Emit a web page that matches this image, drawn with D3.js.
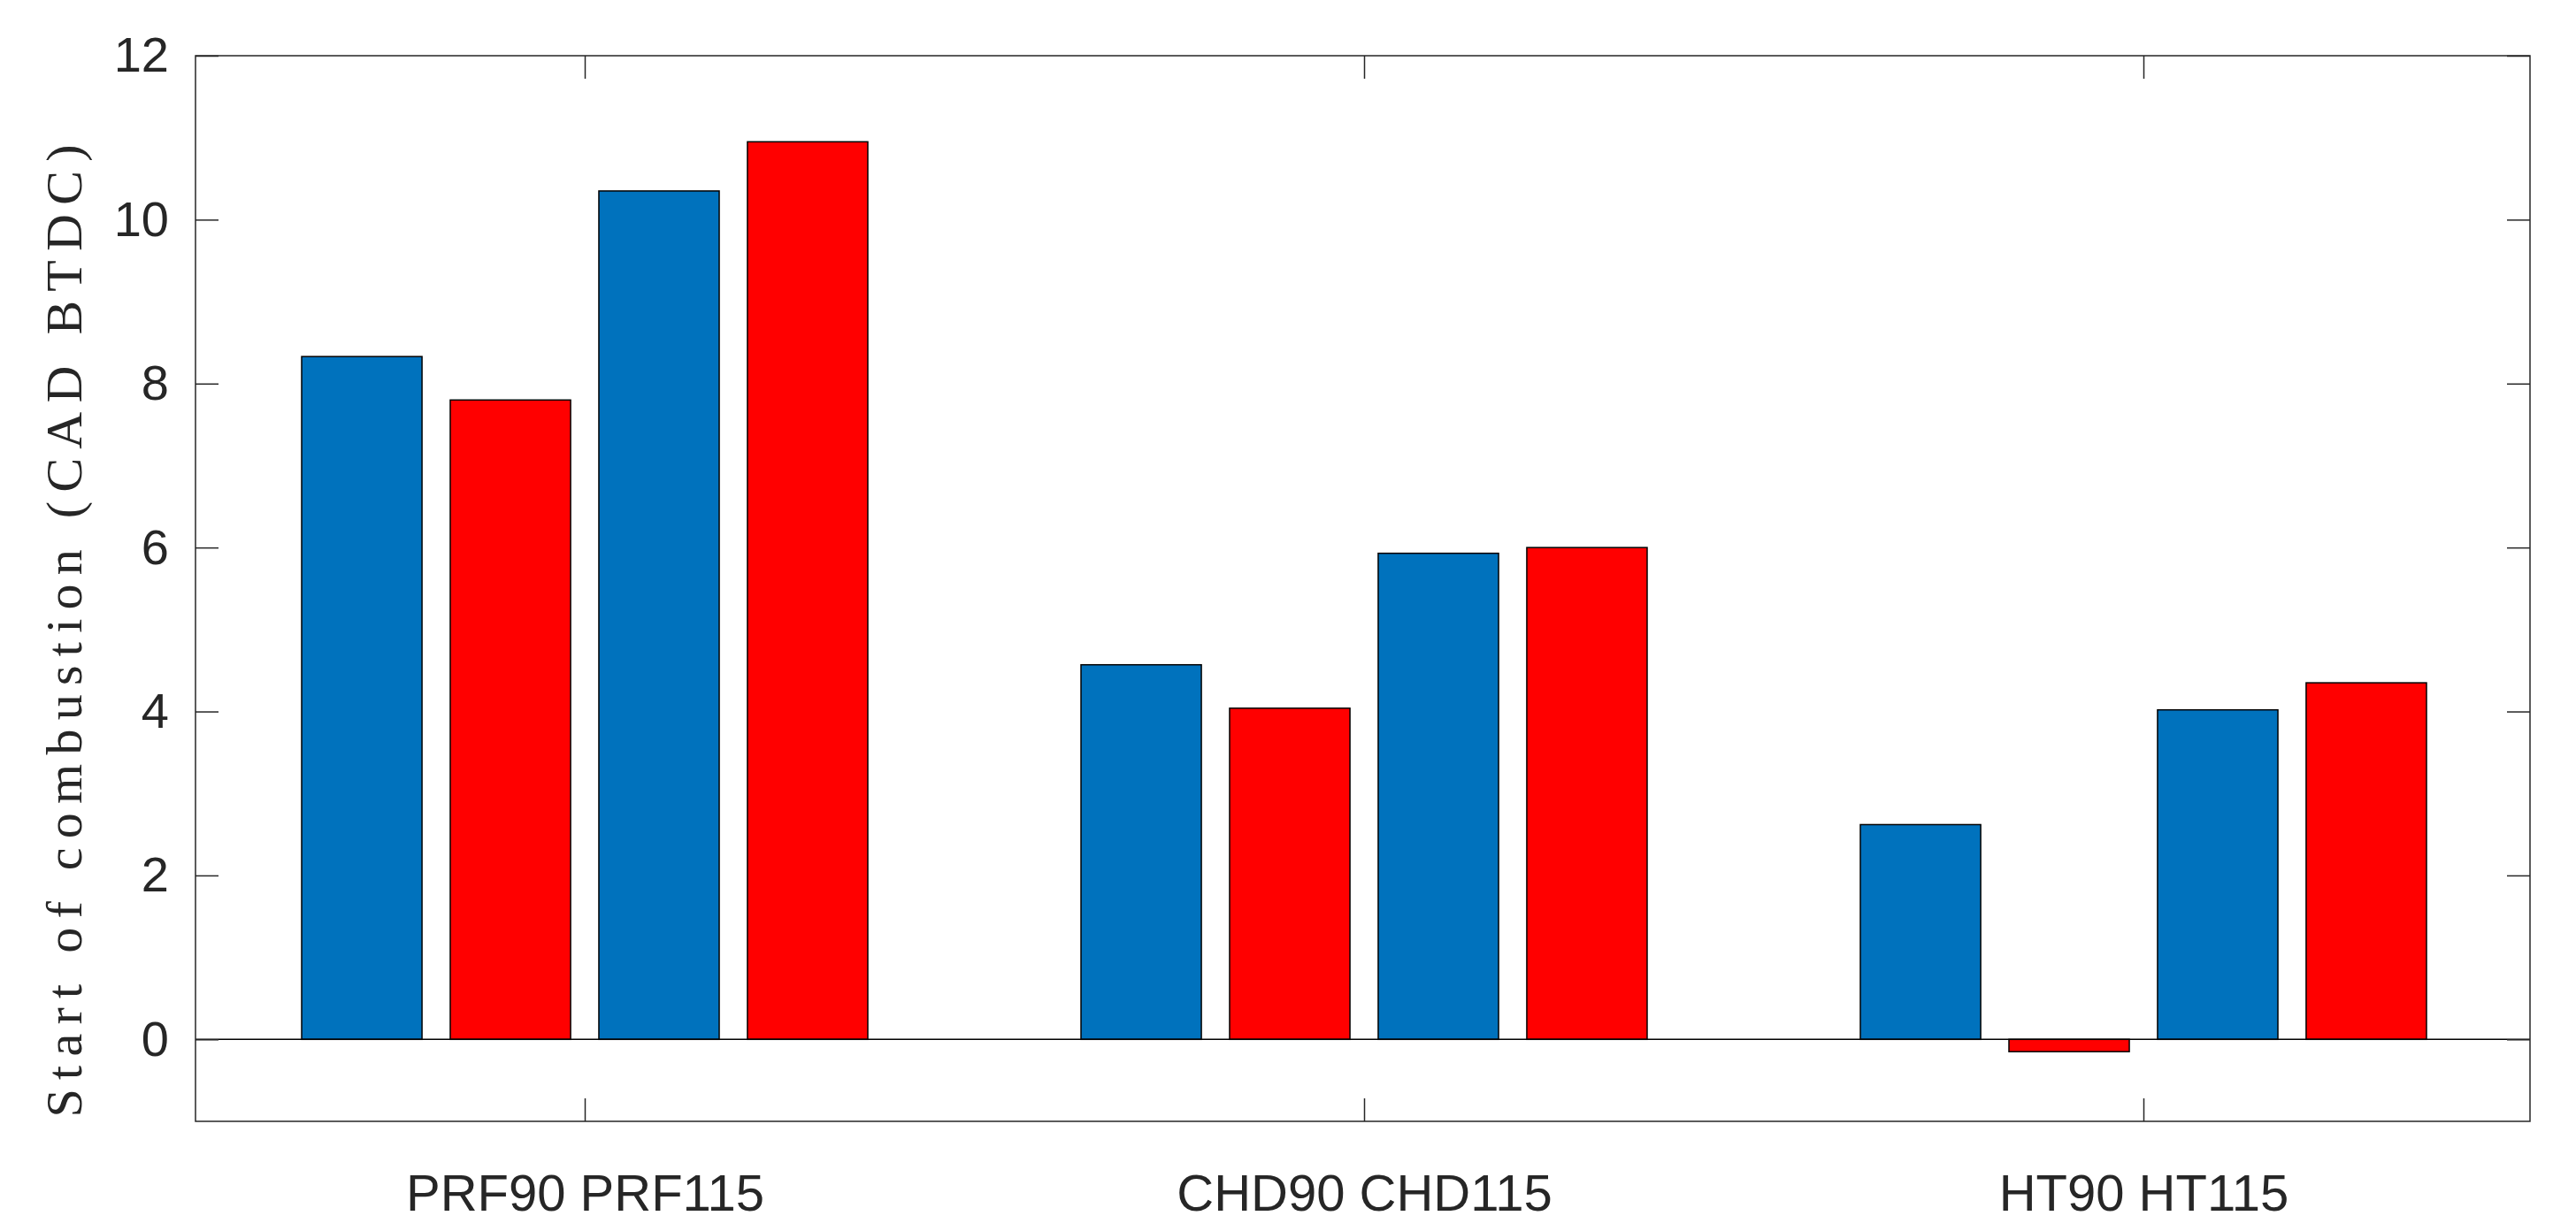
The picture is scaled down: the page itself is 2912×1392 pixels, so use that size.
<!DOCTYPE html>
<html><head><meta charset="utf-8">
<script src="https://cdn.jsdelivr.net/npm/d3@7"></script>
<style>body{margin:0;background:#fff}</style></head>
<body><svg id="c" width="2912" height="1392"></svg>
<script>
const groups = ["PRF90  PRF115", "CHD90  CHD115", "HT90  HT115"];
const series = ["90 base", "90 alt", "115 base", "115 alt"];
const values = [
  [8.33, 7.80, 10.35, 10.95],
  [4.57, 4.04, 5.93, 6.00],
  [2.62, -0.15, 4.02, 4.35]
];
const colors = ["#0072BD", "#FF0000", "#0072BD", "#FF0000"];
const yTicks = [0, 2, 4, 6, 8, 10, 12];

const L = 221, R = 2860, T = 63, B = 1268;
const svg = d3.select("#c");
const y = d3.scaleLinear().domain([-1, 12]).range([B, T]);
const x = d3.scalePoint().domain(groups).range([661, 2423]);
const xs = d3.scaleBand().domain(series).range([-320, 320]).paddingInner(0.19);

const g = svg.append("g");
values.forEach((vals, gi) => {
  vals.forEach((v, si) => {
    g.append("rect")
      .attr("x", x(groups[gi]) + xs(series[si]))
      .attr("width", xs.bandwidth())
      .attr("y", y(Math.max(0, v)))
      .attr("height", Math.abs(y(v) - y(0)))
      .attr("fill", colors[si]).attr("stroke", "#000").attr("stroke-width", 1.5);
  });
});
// zero line
svg.append("line").attr("x1", L).attr("x2", R).attr("y1", y(0)).attr("y2", y(0))
  .attr("stroke", "#000").attr("stroke-width", 1.5);

const font = "'Liberation Sans', Arial, sans-serif";
const ax = svg.append("g").attr("transform", `translate(${L},0)`)
  .call(d3.axisLeft(y).tickValues(yTicks).tickSizeInner(-26).tickSizeOuter(0).tickPadding(30));
ax.select(".domain").remove();
ax.selectAll("line").attr("stroke", "#262626").attr("stroke-width", 1.5);
ax.selectAll("text").attr("font-family", font).attr("font-size", 56).attr("fill", "#262626");

const axr = svg.append("g").attr("transform", `translate(${R},0)`)
  .call(d3.axisRight(y).tickValues(yTicks).tickSizeInner(-26).tickSizeOuter(0).tickFormat(""));
axr.select(".domain").remove();
axr.selectAll("line").attr("stroke", "#262626").attr("stroke-width", 1.5);

const axb = svg.append("g").attr("transform", `translate(0,${B})`)
  .call(d3.axisBottom(x).tickSizeInner(-26).tickSizeOuter(0).tickPadding(60));
axb.select(".domain").remove();
axb.selectAll("line").attr("stroke", "#262626").attr("stroke-width", 1.5);
axb.selectAll("text").attr("font-family", font).attr("font-size", 58).attr("fill", "#262626");

const axt = svg.append("g").attr("transform", `translate(0,${T})`)
  .call(d3.axisTop(x).tickSizeInner(-26).tickSizeOuter(0).tickFormat(""));
axt.select(".domain").remove();
axt.selectAll("line").attr("stroke", "#262626").attr("stroke-width", 1.5);

svg.append("rect").attr("x", L).attr("y", T).attr("width", R - L).attr("height", B - T)
  .attr("fill", "none").attr("stroke", "#262626").attr("stroke-width", 1.5);

svg.append("text").attr("transform", `translate(${y.range()[0] ? 92 : 92},${(165 + 1262) / 2}) rotate(-90)`)
  .attr("text-anchor", "middle").attr("font-family", "'Liberation Serif', 'DejaVu Serif', serif")
  .attr("font-size", 58).attr("textLength", 1100).attr("lengthAdjust", "spacing")
  .attr("fill", "#262626").text("Start of combustion (CAD BTDC)");
</script></body></html>
